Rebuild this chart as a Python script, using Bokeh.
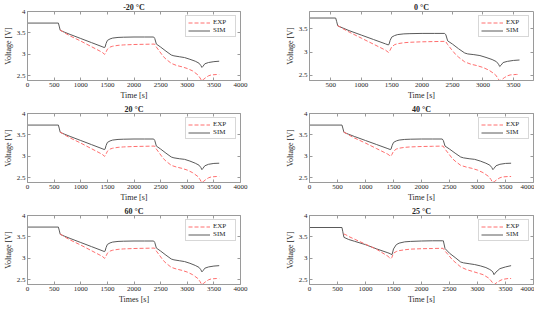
from bokeh.plotting import figure
from bokeh.layouts import gridplot
from bokeh.models import (FixedTicker, CustomJSTickFormatter, LinearAxis, Range1d,
                          Legend, LegendItem)
from bokeh.embed import file_html
from bokeh.resources import INLINE

# ---------------- data ----------------
titles = ["-20 °C", "0 °C", "20 °C", "40 °C", "60 °C", "25 °C"]
x_labels = ["Time [s]", "Time [s]", "Time [s]", "Time [s]", "Times [s]", "Time [s]"]
y_label = "Voltage [V]"

x_ticks_full = [0, 500, 1000, 1500, 2000, 2500, 3000, 3500, 4000]
x_ticks_short = [500, 1000, 1500, 2000, 2500, 3000, 3500]
y_ticks_full = [2.5, 3, 3.5, 4]
y_ticks_short = [2.5, 3, 3.5]

t_sim = [0, 580, 595, 615, 700, 800, 1000, 1200, 1400, 1440,
         1455, 1475, 1500, 1550, 1600, 1700, 1800, 2000, 2200, 2370,
         2390, 2420, 2500, 2600, 2700, 2750, 2850, 2950, 3050, 3150,
         3220, 3255, 3275, 3295, 3330, 3400, 3500, 3600]

t_exp = [610, 650, 700, 800, 1000, 1200, 1400, 1450, 1470, 1500,
         1550, 1600, 1700, 1800, 2000, 2200, 2385, 2420, 2480, 2550,
         2600, 2700, 2800, 2900, 3000, 3100, 3200, 3240, 3270, 3300,
         3350, 3400, 3450, 3550, 3600]

v_sim_m20 = [3.73, 3.73, 3.66, 3.56, 3.515, 3.465, 3.37, 3.275, 3.18, 3.16,
             3.165, 3.25, 3.325, 3.36, 3.38, 3.395, 3.40, 3.405, 3.405, 3.405,
             3.37, 3.24, 3.17, 3.075, 2.985, 2.965, 2.945, 2.925, 2.885, 2.84,
             2.795, 2.74, 2.695, 2.72, 2.78, 2.81, 2.83, 2.84]
v_exp_m20 = [3.57, 3.54, 3.50, 3.43, 3.31, 3.18, 3.05, 3.00, 3.04, 3.12,
             3.17, 3.19, 3.21, 3.22, 3.23, 3.235, 3.24, 3.17, 3.07, 2.95,
             2.89, 2.79, 2.74, 2.71, 2.67, 2.615, 2.52, 2.45, 2.385, 2.41,
             2.46, 2.50, 2.52, 2.53, 2.53]

v_sim_0 = [3.73, 3.73, 3.66, 3.56, 3.515, 3.46, 3.365, 3.27, 3.175, 3.155,
           3.16, 3.25, 3.32, 3.355, 3.375, 3.39, 3.395, 3.40, 3.40, 3.40,
           3.37, 3.24, 3.17, 3.07, 2.98, 2.96, 2.945, 2.925, 2.885, 2.84,
           2.795, 2.74, 2.69, 2.715, 2.775, 2.80, 2.82, 2.83]
v_exp_0 = [3.57, 3.54, 3.50, 3.43, 3.30, 3.17, 3.04, 2.99, 3.03, 3.11,
           3.16, 3.18, 3.20, 3.21, 3.22, 3.225, 3.23, 3.16, 3.06, 2.95,
           2.89, 2.79, 2.74, 2.71, 2.67, 2.61, 2.52, 2.45, 2.385, 2.40,
           2.45, 2.49, 2.51, 2.52, 2.52]

v_sim_20 = [3.73, 3.73, 3.66, 3.56, 3.515, 3.465, 3.37, 3.275, 3.18, 3.16,
            3.165, 3.25, 3.325, 3.36, 3.38, 3.395, 3.40, 3.405, 3.405, 3.405,
            3.37, 3.24, 3.17, 3.075, 2.985, 2.965, 2.945, 2.93, 2.89, 2.84,
            2.795, 2.74, 2.69, 2.72, 2.78, 2.815, 2.835, 2.84]
v_exp_20 = [3.57, 3.54, 3.50, 3.43, 3.31, 3.18, 3.05, 3.00, 3.04, 3.12,
            3.17, 3.19, 3.21, 3.22, 3.23, 3.235, 3.24, 3.17, 3.07, 2.95,
            2.89, 2.79, 2.75, 2.72, 2.68, 2.62, 2.53, 2.46, 2.39, 2.41,
            2.46, 2.50, 2.52, 2.53, 2.53]

v_sim_40 = [3.73, 3.73, 3.66, 3.56, 3.515, 3.465, 3.37, 3.275, 3.18, 3.16,
            3.165, 3.25, 3.325, 3.36, 3.38, 3.395, 3.40, 3.405, 3.405, 3.405,
            3.37, 3.24, 3.17, 3.075, 2.985, 2.965, 2.945, 2.93, 2.89, 2.84,
            2.795, 2.74, 2.69, 2.72, 2.78, 2.815, 2.835, 2.84]
v_exp_40 = [3.57, 3.54, 3.50, 3.43, 3.31, 3.18, 3.05, 3.00, 3.04, 3.12,
            3.17, 3.19, 3.21, 3.22, 3.23, 3.235, 3.24, 3.17, 3.07, 2.95,
            2.89, 2.79, 2.75, 2.72, 2.68, 2.62, 2.53, 2.46, 2.39, 2.41,
            2.46, 2.50, 2.52, 2.53, 2.53]

v_sim_60 = [3.73, 3.73, 3.66, 3.56, 3.515, 3.465, 3.37, 3.275, 3.18, 3.16,
            3.165, 3.25, 3.325, 3.36, 3.38, 3.395, 3.40, 3.405, 3.405, 3.405,
            3.37, 3.24, 3.17, 3.075, 2.985, 2.965, 2.945, 2.925, 2.885, 2.835,
            2.79, 2.735, 2.685, 2.71, 2.77, 2.80, 2.82, 2.83]
v_exp_60 = [3.57, 3.54, 3.50, 3.43, 3.31, 3.18, 3.05, 3.00, 3.04, 3.12,
            3.17, 3.19, 3.21, 3.22, 3.23, 3.235, 3.24, 3.17, 3.07, 2.95,
            2.89, 2.79, 2.75, 2.72, 2.68, 2.62, 2.53, 2.46, 2.39, 2.41,
            2.46, 2.50, 2.52, 2.53, 2.53]

v_sim_25 = [3.72, 3.72, 3.62, 3.49, 3.44, 3.40, 3.32, 3.22, 3.13, 3.11,
            3.095, 3.09, 3.22, 3.32, 3.355, 3.385, 3.395, 3.405, 3.41, 3.41,
            3.41, 3.23, 3.12, 3.02, 2.915, 2.895, 2.875, 2.855, 2.825, 2.785,
            2.74, 2.71, 2.68, 2.62, 2.68, 2.76, 2.80, 2.83]
v_exp_25 = [3.57, 3.55, 3.51, 3.45, 3.33, 3.21, 3.05, 2.99, 3.02, 3.12,
            3.16, 3.18, 3.20, 3.215, 3.225, 3.23, 3.235, 3.17, 3.08, 2.97,
            2.91, 2.80, 2.74, 2.70, 2.66, 2.62, 2.54, 2.48, 2.43, 2.39,
            2.44, 2.48, 2.51, 2.53, 2.53]

sim_sets = [v_sim_m20, v_sim_0, v_sim_20, v_sim_40, v_sim_60, v_sim_25]
exp_sets = [v_exp_m20, v_exp_0, v_exp_20, v_exp_40, v_exp_60, v_exp_25]

x_ranges = [(0, 4000), (150, 3830), (0, 4000), (0, 4000), (0, 4000), (0, 4000)]
y_ranges = [(2.39, 4.0), (2.39, 3.87), (2.39, 4.0), (2.39, 4.0), (2.39, 4.0), (2.39, 4.0)]

# ---------------- styling ----------------
FONT = "Liberation Serif"
SIM_COLOR = "#5a5a5a"
EXP_COLOR = "#ff6e6e"
FRAME = "#9a9a9a"
TXT = "#262626"
fmt = CustomJSTickFormatter(code="return tick.toString();")


def style_axis(ax, ticks, label=None):
    ax.ticker = FixedTicker(ticks=ticks)
    ax.formatter = fmt
    ax.major_tick_in = 3
    ax.major_tick_out = 0
    ax.minor_tick_line_color = None
    ax.axis_line_color = FRAME
    ax.major_tick_line_color = FRAME
    ax.major_label_text_font = FONT
    ax.major_label_text_font_size = "7px"
    ax.major_label_text_color = TXT
    ax.major_label_standoff = 2
    if label is not None:
        ax.axis_label = label
        ax.axis_label_text_font = FONT
        ax.axis_label_text_font_size = "8px"
        ax.axis_label_text_font_style = "normal"
        ax.axis_label_text_color = TXT
        ax.axis_label_standoff = 1


def tick_only_axis(ticks):
    ax = LinearAxis()
    style_axis(ax, ticks)
    ax.major_label_text_color = None
    ax.major_label_text_alpha = 0
    ax.major_label_standoff = 0
    ax.axis_line_color = None
    return ax


def make_panel(i):
    left_col = (i % 2 == 0)
    xt = x_ticks_short if i == 1 else x_ticks_full
    yt = y_ticks_short if i == 1 else y_ticks_full
    p = figure(width=267, height=102, output_backend="svg", toolbar_location=None,
               x_range=Range1d(*x_ranges[i]), y_range=Range1d(*y_ranges[i]),
               min_border_left=24 if left_col else 42,
               min_border_right=27 if left_col else 1,
               min_border_top=9, min_border_bottom=22)
    p.title.text = titles[i]
    p.title.align = "center"
    p.title.text_font = FONT
    p.title.text_font_size = "8px"
    p.title.text_font_style = "bold"
    p.title.text_color = TXT
    p.title.standoff = 0
    p.title.offset = 0
    p.xgrid.visible = False
    p.ygrid.visible = False
    p.outline_line_color = FRAME
    style_axis(p.xaxis[0], xt, x_labels[i])
    style_axis(p.yaxis[0], yt, y_label)

    p.add_layout(tick_only_axis(xt), "above")
    p.add_layout(tick_only_axis(yt), "right")

    r_sim = p.line(t_sim, sim_sets[i], line_color=SIM_COLOR, line_width=1)
    r_exp = p.line(t_exp, exp_sets[i], line_color=EXP_COLOR, line_width=1,
                   line_dash="4 2")
    leg = Legend(items=[LegendItem(label="EXP", renderers=[r_exp]),
                        LegendItem(label="SIM", renderers=[r_sim])],
                 location="top_right")
    leg.label_text_font = FONT
    leg.label_text_font_size = "7px"
    leg.label_text_color = TXT
    leg.label_height = 7
    leg.glyph_height = 7
    leg.glyph_width = 22
    leg.label_standoff = 3
    leg.spacing = 0
    leg.padding = 2
    leg.margin = 4
    leg.border_line_color = "#b0b0b0"
    leg.background_fill_alpha = 1.0
    p.add_layout(leg)
    return p


panels = [make_panel(i) for i in range(6)]
grid = gridplot([[panels[0], panels[1]], [panels[2], panels[3]], [panels[4], panels[5]]],
                toolbar_location=None)

open("out.html", "w").write(file_html(grid, INLINE))
